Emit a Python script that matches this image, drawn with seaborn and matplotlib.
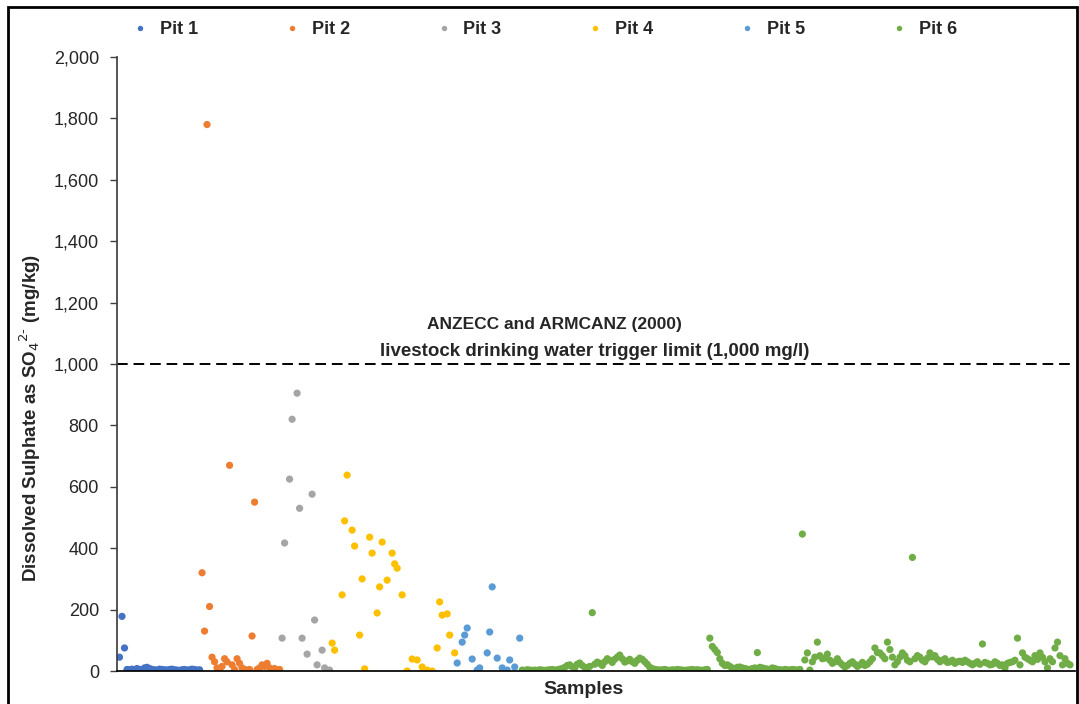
import numpy as np
import pandas as pd
import seaborn as sns
import matplotlib.pyplot as plt
from matplotlib.patches import Rectangle

# Dissolved sulphate (mg/kg) per sample
pit1_so4 = [45, 178, 75, 5, 4, 6, 3, 8, 5, 4, 10, 12, 8, 5, 4, 3, 6, 5, 4, 3,
            5, 6, 4, 3, 2, 4, 5, 3, 4, 6, 5, 3, 4]
pit2_so4 = [320, 130, 1780, 210, 45, 30, 10, 5, 15, 40, 30, 670, 20, 5, 40, 25,
            10, 5, 3, 5, 114, 550, 5, 10, 20, 15, 25, 10, 5, 8, 3, 5]
pit3_sample = [66, 67, 69, 70, 72, 73, 74, 76, 78, 79, 80, 82, 83, 84, 85]
pit3_so4 = [107, 417, 625, 820, 905, 530, 107, 55, 576, 166, 20, 68, 10, 0, 3]
pit4_sample = [86, 87, 90, 91, 92, 94, 95, 97, 98, 99, 101, 102, 104, 105, 106, 108,
               110, 111, 112, 114, 116, 118, 120, 122, 124, 126, 128, 129, 130,
               132, 133, 135]
pit4_so4 = [91, 68, 248, 489, 638, 459, 407, 117, 300, 7, 436, 384, 189, 274, 420,
            296, 384, 349, 335, 248, 0, 39, 36, 13, 3, 0, 75, 225, 182, 186, 117, 59]
pit5_sample = [136, 138, 139, 140, 142, 144, 145, 148, 149, 150, 152, 154, 156, 157,
               159, 161]
pit5_so4 = [26, 94, 117, 140, 39, 3, 10, 59, 127, 274, 42, 10, 3, 36, 13, 107]
pit6_so4 = [3, 2, 4, 3, 2, 3, 2, 4, 3, 2, 3, 4, 5, 3, 4, 6,
            8, 12, 18, 20, 14, 10, 22, 26, 18, 12, 10, 15,
            190,
            22, 29, 25, 18, 30, 40, 35, 28, 38, 45, 52, 40, 29, 33, 38, 30, 25, 35,
            42, 38, 30, 22,
            12, 8, 5, 4, 3, 4, 5, 3, 2, 4, 3, 5, 4, 3, 2, 3, 4, 5, 3, 4, 3, 2, 4, 5,
            107, 80, 70, 60, 40,
            25, 18, 20, 15, 10, 8, 12, 13, 10, 8, 6, 5, 8, 10,
            60,
            12, 10, 8, 6, 5, 10, 8, 5, 4, 3, 5, 4, 3, 5, 4, 3, 5,
            446,
            36, 59, 3, 30, 45, 94, 50, 40, 42, 55, 35, 25, 30, 40, 28,
            20, 13, 18, 25, 30, 22, 15, 20, 28, 18, 22, 30, 40,
            75, 60, 59, 50, 40, 94, 70, 45, 20, 30, 45, 59, 50, 35, 30,
            370,
            40, 50, 45, 35, 30, 42, 59, 46, 50, 38, 30, 35, 40, 28, 30, 35, 25, 30,
            32, 28, 35, 30, 25,
            20, 25, 30, 22, 88, 28, 25, 20, 22, 30, 25, 18, 20, 10, 25, 28, 30, 35,
            107, 20,
            59, 45, 40, 35, 30, 50, 38, 59, 45, 30, 10, 40, 30, 75, 94, 50, 20, 40,
            25, 20]

pit1_sample = list(range(1, 1 + len(pit1_so4)))
pit2_sample = list(range(34, 34 + len(pit2_so4)))
pit6_sample = list(range(162, 162 + len(pit6_so4)))

pits = ['Pit 1', 'Pit 2', 'Pit 3', 'Pit 4', 'Pit 5', 'Pit 6']
colours = ['#4472C4', '#ED7D31', '#A5A5A5', '#FFC000', '#5B9BD5', '#70AD47']

frames = []
for name, xs, ys in zip(pits,
                        [pit1_sample, pit2_sample, pit3_sample, pit4_sample, pit5_sample, pit6_sample],
                        [pit1_so4, pit2_so4, pit3_so4, pit4_so4, pit5_so4, pit6_so4]):
    frames.append(pd.DataFrame({'Sample': xs, 'SO4': ys, 'Pit': name}))
df = pd.concat(frames, ignore_index=True)

sns.set_theme(style='white')
plt.rcParams['font.family'] = ['Liberation Sans', 'DejaVu Sans']

fig = plt.figure(figsize=(10.79, 7.04), dpi=100)
ax = fig.add_axes([117 / 1079, 33 / 704, 958 / 1079, 614 / 704])

sns.scatterplot(data=df, x='Sample', y='SO4', hue='Pit', hue_order=pits,
                palette=dict(zip(pits, colours)), s=27, linewidth=0, ax=ax)

# trigger limit line and its note
ax.axhline(1000, color='black', linestyle=(0, (5.5, 3)), linewidth=1.4, zorder=1)
ax.text(175, 1130, 'ANZECC and ARMCANZ (2000)', ha='center', va='center',
        fontsize=12.5, fontweight='bold')
ax.text(191, 1040, 'livestock drinking water trigger limit (1,000 mg/l)', ha='center',
        va='center', fontsize=13.5, fontweight='bold')

ax.set_xlim(0, 383)
ax.set_ylim(0, 2000)
ax.set_yticks(range(0, 2001, 200))
ax.set_yticklabels([f'{v:,}' for v in range(0, 2001, 200)], fontsize=13)
ax.set_xticks([])
ax.tick_params(axis='y', direction='out', length=5, width=1, color='#404040',
               left=True, pad=8)
ax.set_xlabel('Samples', fontsize=14, fontweight='bold')
ax.xaxis.set_label_coords((583 - 117) / 958, -0.016)
ax.set_ylabel('Dissolved Sulphate as SO$_4$$^{2\\text{-}}$ (mg/kg)', fontsize=13.5,
              fontweight='bold')
ax.yaxis.set_label_coords(-0.077, (671 - 418) / 614)
for side in ['top', 'right']:
    ax.spines[side].set_visible(False)
ax.spines['left'].set_color('#404040')
ax.spines['bottom'].set_color('black')

sns.move_legend(ax, 'center', bbox_to_anchor=(0.441, 1.044), ncol=6, title=None,
                frameon=False, columnspacing=4.2, handletextpad=0.1,
                markerscale=0.75, prop={'weight': 'bold', 'size': 13})

fig.patches.append(Rectangle((8 / 1079, -0.05), 1069 / 1079, 1.05 - 7 / 704,
                             transform=fig.transFigure, fill=False,
                             edgecolor='black', linewidth=2))

fig.savefig('out.png', dpi=100)
